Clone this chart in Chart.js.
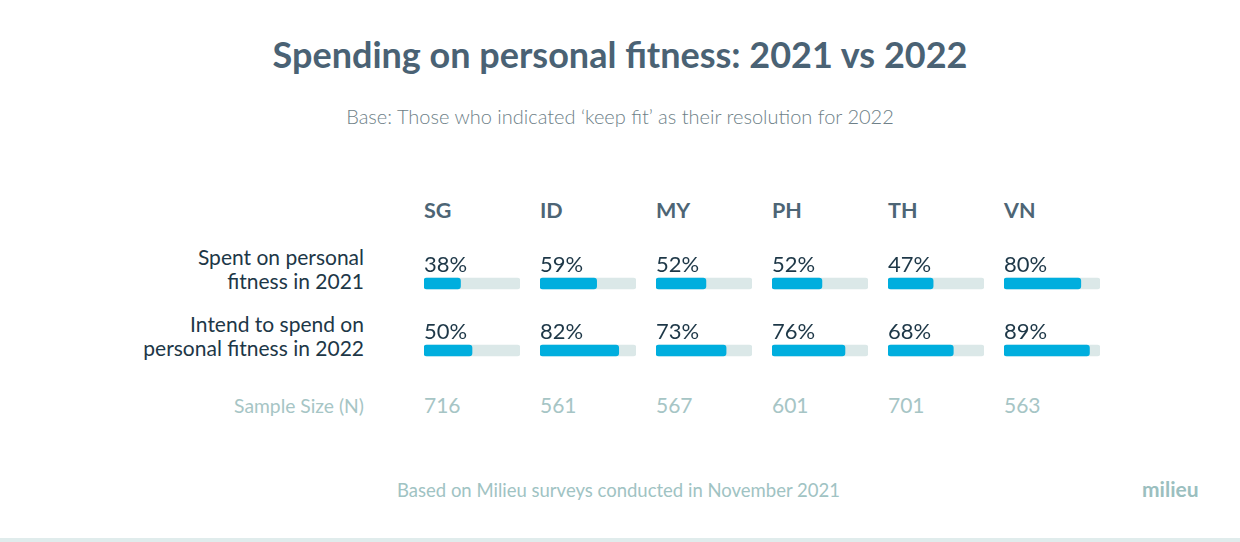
<!DOCTYPE html>
<html>
<head>
<meta charset="utf-8">
<script src="https://cdn.jsdelivr.net/npm/chart.js@4"></script>
<style>
  body { margin: 0; width: 1240px; height: 542px; background: #fff; font-family: Lato, sans-serif; position: relative; overflow: hidden; }
  .abs { position: absolute; white-space: nowrap; }
  #title { left: 0; width: 1240px; top: 32px; text-align: center; font-size: 36px; font-weight: 700; color: #4a6274; }
  #subtitle { left: 0; width: 1240px; top: 104px; text-align: center; font-size: 20px; font-weight: 300; color: #6e7f88; }
  .country { top: 197px; font-size: 21.5px; font-weight: 700; color: #4d6575; }
  .rowLabel { right: 876px; text-align: right; font-size: 21px; line-height: 24px; color: #1d3747; }
  .sample { top: 392px; font-size: 21px; color: #a6c5c5; }
  #sampleLabel { right: 876px; top: 394px; font-size: 19.3px; color: #a6c5c5; }
  #footer { left: 397px; top: 479px; font-size: 18.5px; color: #a0c3c3; }
  #logo { left: 1142px; top: 476px; font-size: 21px; font-weight: 700; color: #9bbfbf; }
  #bottomLine { left: 0; top: 538px; width: 1240px; height: 4px; background: #e0ecec; }
  canvas.mini { position: absolute; }
</style>
</head>
<body>
<div id="title" class="abs">Spending on personal fitness: 2021 vs 2022</div>
<div id="subtitle" class="abs">Base: Those who indicated ‘keep fit’ as their resolution for 2022</div>
<div class="abs rowLabel" style="top:245px">Spent on personal<br>fitness in 2021</div>
<div class="abs rowLabel" style="top:312px">Intend to spend on<br>personal fitness in 2022</div>
<div id="sampleLabel" class="abs">Sample Size (N)</div>
<div id="footer" class="abs">Based on Milieu surveys conducted in November 2021</div>
<div id="logo" class="abs">milieu</div>
<div id="bottomLine" class="abs"></div>

<script>
let countries = ["SG", "ID", "MY", "PH", "TH", "VN"];
let rowNames = ["Spent on personal fitness in 2021", "Intend to spend on personal fitness in 2022"];
let spent2021 = [38, 59, 52, 52, 47, 80];
let intend2022 = [50, 82, 73, 76, 68, 89];
let sampleSizes = [716, 561, 567, 601, 701, 563];

let colLeft = 424;
let colStep = 116;

// percentage text above each blue bar
const pctLabels = {
  id: "pctLabels",
  afterDatasetsDraw(chart) {
    const ctx = chart.ctx;
    const meta = chart.getDatasetMeta(0);
    ctx.save();
    ctx.font = "22px Lato, sans-serif";
    ctx.fillStyle = "#1d3747";
    ctx.textBaseline = "alphabetic";
    ctx.textAlign = "left";
    meta.data.forEach((bar, i) => {
      const v = chart.data.datasets[0].data[i];
      ctx.fillText(v + "%", chart.chartArea.left, bar.y - 12);
    });
    ctx.restore();
  }
};

countries.forEach((c, i) => {
  const x = colLeft + i * colStep;

  const head = document.createElement("div");
  head.className = "abs country";
  head.style.left = x + "px";
  head.textContent = c;
  document.body.appendChild(head);

  const n = document.createElement("div");
  n.className = "abs sample";
  n.style.left = x + "px";
  n.textContent = sampleSizes[i];
  document.body.appendChild(n);

  const cv = document.createElement("canvas");
  cv.className = "mini";
  cv.style.left = x + "px";
  cv.style.top = "240px";
  cv.style.width = "96px";
  cv.style.height = "144px";
  cv.width = 96;
  cv.height = 144;
  document.body.appendChild(cv);

  new Chart(cv.getContext("2d"), {
    type: "bar",
    data: {
      labels: rowNames,
      datasets: [
        {
          data: [spent2021[i], intend2022[i]],
          backgroundColor: "#00aede",
          barThickness: 11,
          borderRadius: 3,
          borderSkipped: false,
          grouped: false,
          order: 0
        },
        {
          data: [100, 100],
          backgroundColor: "#dbe8e8",
          barThickness: 11,
          borderRadius: 3,
          borderSkipped: false,
          grouped: false,
          order: 1
        }
      ]
    },
    options: {
      indexAxis: "y",
      responsive: false,
      animation: false,
      devicePixelRatio: 1,
      layout: { padding: { top: 10, left: 0, right: 0, bottom: 0 } },
      scales: {
        x: { min: 0, max: 100, display: false },
        y: { display: false }
      },
      plugins: {
        legend: { display: false },
        tooltip: { enabled: false }
      }
    },
    plugins: [pctLabels]
  });
});
</script>
</body>
</html>
